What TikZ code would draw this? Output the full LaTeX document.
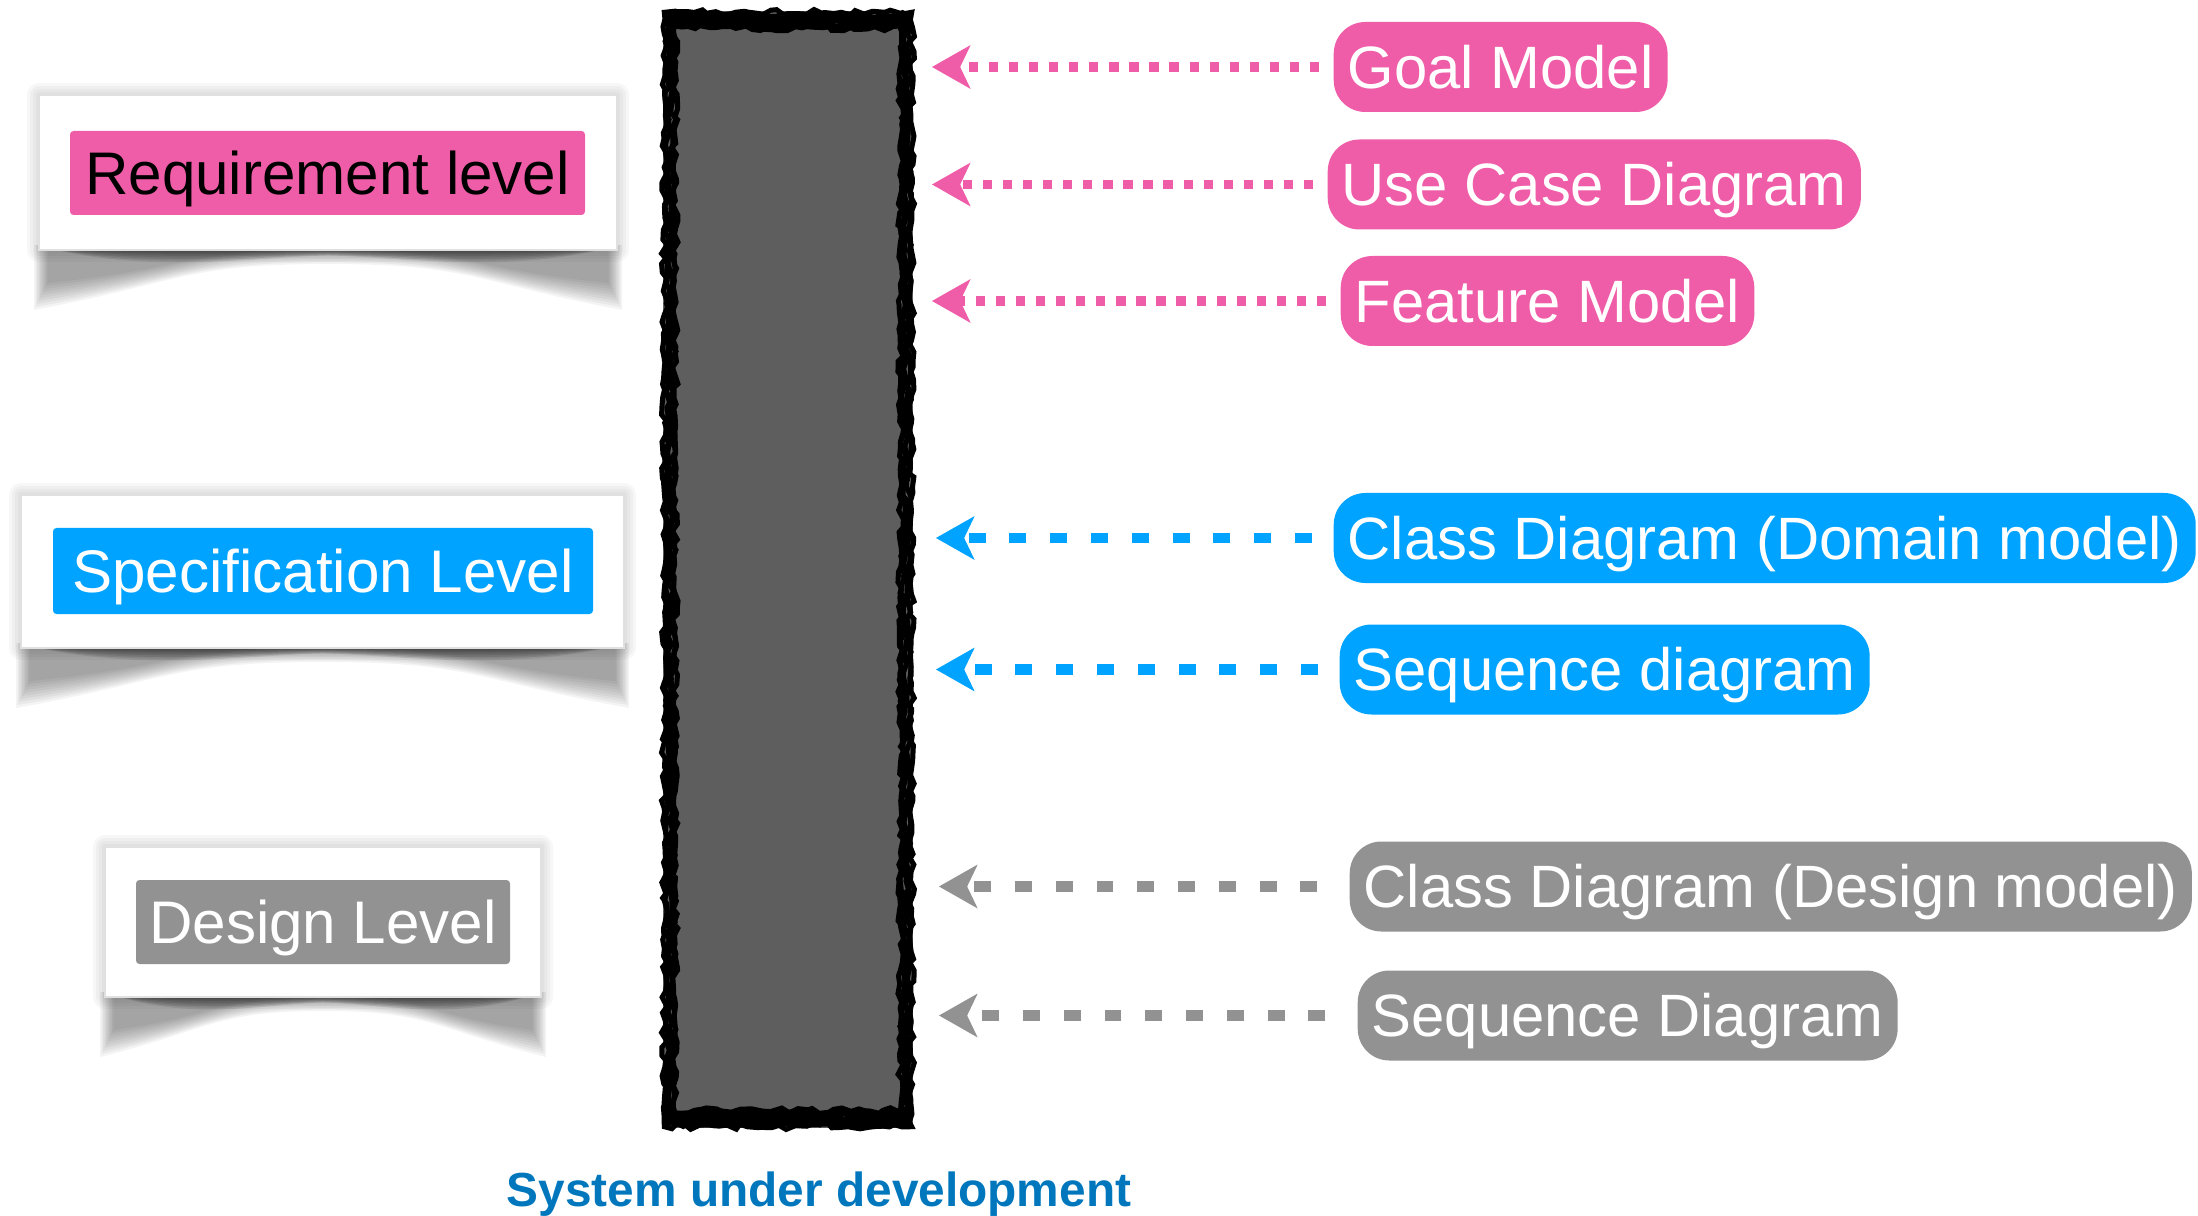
\documentclass[tikz,border=0pt]{standalone}
\usepackage{fontspec}
\setmainfont{Liberation Sans}
\usetikzlibrary{arrows.meta,decorations.pathmorphing}
\definecolor{pinkC}{HTML}{EF5DA8}
\definecolor{blueC}{HTML}{00A3FF}
\definecolor{grayC}{HTML}{929292}
\definecolor{barC}{HTML}{5E5E5E}
\definecolor{textBlue}{HTML}{0077BC}
\newdimen\pxu \pxu=0.01cm
\newcommand\levelcard[4]{%
  \foreach \e in {3,6,9,12} {\fill[black,opacity=0.03,rounded corners=\e\pxu] (#1-\e,#2-\e) rectangle (#3+\e,#4+\e);}
  % broad arch shadow
  \foreach \k in {0,...,9} {%
    \pgfmathsetmacro\xa{#1-5+1.5*\k}
    \pgfmathsetmacro\xb{#3+5-1.5*\k}
    \pgfmathsetmacro\dd{60-3*\k}
    \pgfmathsetmacro\mm{14-1.6*\k}
    \pgfmathsetmacro\xm{(#1+#3)/2}
    \pgfmathsetmacro\shw{#3-#1}
    \fill[black,opacity=0.045] (\xa,#4-5) -- (\xa,#4+\dd)
      .. controls ({\xa+0.25*\shw},{#4+0.55*\dd}) and ({\xm-0.25*\shw},{#4+\mm}) .. (\xm,#4+\mm)
      .. controls ({\xm+0.25*\shw},{#4+\mm}) and ({\xb-0.25*\shw},{#4+0.55*\dd}) .. (\xb,#4+\dd)
      -- (\xb,#4-5) -- cycle;
  }
  % dark strip hugging the card
  \foreach \k in {0,...,6} {%
    \pgfmathsetmacro\xm{(#1+#3)/2}
    \pgfmathsetmacro\shw{#3-#1}
    \pgfmathsetmacro\dd{18-2.4*\k}
    \fill[black,opacity=0.09] (#1+8,#4-2)
      .. controls ({#1+0.2*\shw},{#4+1.3*\dd}) and ({\xm-0.15*\shw},{#4+0.45*\dd}) .. (\xm,{#4+0.3*\dd})
      .. controls ({\xm+0.15*\shw},{#4+0.45*\dd}) and ({#3-0.2*\shw},{#4+1.3*\dd}) .. (#3-8,#4-2) -- cycle;
  }
  \fill[white] (#1,#2) rectangle (#3,#4);
  \draw[black!12, line width=0.4pt] (#1,#2) rectangle (#3,#4);
}
\begin{document}
\begin{tikzpicture}[x=0.01cm,y=-0.01cm,
  lvl/.style={rectangle, rounded corners=1pt, inner sep=0pt, font=\fontsize{17.1}{20}\selectfont, text height=12.2pt, text depth=0pt},
  pill/.style={rectangle, rounded corners=9pt, inner xsep=4pt, inner ysep=0pt, minimum height=90\pxu, font=\fontsize{17}{20}\selectfont, text=white, text height=12.2pt, text depth=0pt, anchor=west},
  tipstyle/.style={-{Stealth[length=11pt,width=12.5pt,inset=3pt,line width=0pt]}},
  pinkarrow/.style={draw=pinkC, line width=2.8pt, dash pattern=on 2.6pt off 3.1pt, shorten <=4pt, tipstyle},
  bluearrow/.style={draw=blueC, line width=3pt, dash pattern=on 4.8pt off 6.8pt, shorten <=6pt, tipstyle},
  grayarrow/.style={draw=grayC, line width=3pt, dash pattern=on 4.8pt off 6.8pt, shorten <=9pt, tipstyle},
  rough/.style={draw=black, line width=5\pxu, decorate, decoration={random steps, segment length=2pt, amplitude=0.8pt}}
]
\useasboundingbox (0,0) rectangle (2198,1216);

% level cards
\levelcard{39}{95}{617}{250}
\levelcard{21}{495}{624}{648}
\levelcard{105}{847}{541}{997}
\node[lvl, fill=pinkC, text=black, minimum width=515\pxu, minimum height=84\pxu] (req) at (327.5,173) {Requirement level};
\node[lvl, fill=blueC, text=white, minimum width=540\pxu, minimum height=86\pxu] (spec) at (323,571) {Specification Level};
\node[lvl, fill=grayC, text=white, minimum width=374\pxu, minimum height=84\pxu] (des) at (323,922) {Design Level};

% system bar
\node[rectangle, fill=barC, inner sep=0pt, minimum width=250\pxu, minimum height=1117\pxu] (sys) at (788,569.5) {};
\pgfmathsetseed{7}
\foreach \i in {2,5,8,11,13} {
  \draw[rough] ([shift={(\i,\i)}]sys.north west) rectangle ([shift={(-\i,-\i)}]sys.south east);
}
\draw[rough, line width=9\pxu] ([shift={(4,8)}]sys.north west) -- ([shift={(-4,8)}]sys.north east);
\draw[rough, line width=9\pxu] ([shift={(4,16)}]sys.north west) -- ([shift={(-4,16)}]sys.north east);
\draw[rough, line width=9\pxu] ([shift={(4,-8)}]sys.south west) -- ([shift={(-4,-8)}]sys.south east);
\draw[rough, line width=9\pxu] ([shift={(4,-16)}]sys.south west) -- ([shift={(-4,-16)}]sys.south east);
\node[font=\bfseries\fontsize{13.6}{16}\selectfont, text=textBlue, anchor=base] (label) at (819,1206) {System under development};

% pills
\node[pill, fill=pinkC] (goal) at (1333,67) {Goal Model};
\node[pill, fill=pinkC] (usecase) at (1327,184.5) {Use Case Diagram};
\node[pill, fill=pinkC] (feature) at (1340,301) {Feature Model};
\node[pill, fill=blueC] (classdom) at (1333,538) {Class Diagram (Domain model)};
\node[pill, fill=blueC] (seqd) at (1339,669.5) {Sequence diagram};
\node[pill, fill=grayC] (classdes) at (1349,886.5) {Class Diagram (Design model)};
\node[pill, fill=grayC] (seqdes) at (1357,1015.5) {Sequence Diagram};

% arrows
\coordinate (tipP) at (932,0);
\coordinate (tipB) at (936,0);
\coordinate (tipG) at (939,0);
\draw[pinkarrow] (goal.west) -- (goal.west -| tipP);
\draw[pinkarrow] (usecase.west) -- (usecase.west -| tipP);
\draw[pinkarrow] (feature.west) -- (feature.west -| tipP);
\draw[bluearrow] (classdom.west) -- (classdom.west -| tipB);
\draw[bluearrow] (seqd.west) -- (seqd.west -| tipB);
\draw[grayarrow] (classdes.west) -- (classdes.west -| tipG);
\draw[grayarrow] (seqdes.west) -- (seqdes.west -| tipG);
\end{tikzpicture}
\end{document}
